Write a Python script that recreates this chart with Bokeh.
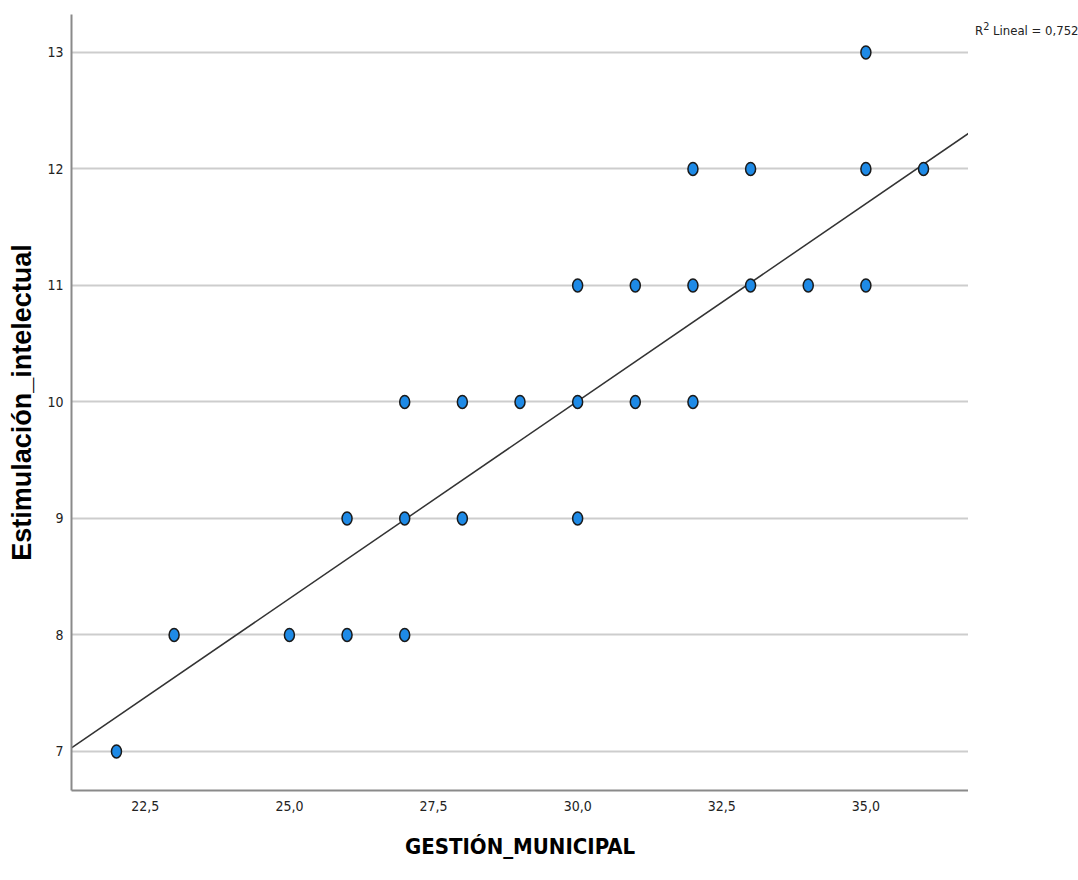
from bokeh.plotting import figure
from bokeh.models import FixedTicker, ColumnDataSource, Div
from bokeh.layouts import row
from bokeh.embed import file_html
from bokeh.resources import INLINE

# Data
gestion = [22, 23, 25, 26, 27, 26, 27, 28, 30, 27, 28, 29, 30, 31, 32,
           30, 31, 32, 33, 34, 35, 32, 33, 35, 36, 35]
estimulacion = [7, 8, 8, 8, 8, 9, 9, 9, 9, 10, 10, 10, 10, 10, 10,
                11, 11, 11, 11, 11, 11, 12, 12, 12, 12, 13]
fit_intercept = -0.163
fit_slope = 0.339
r2_value = "0,752"
x_ticks = [22.5, 25.0, 27.5, 30.0, 32.5, 35.0]
x_tick_labels = ["22,5", "25,0", "27,5", "30,0", "32,5", "35,0"]
y_ticks = [7, 8, 9, 10, 11, 12, 13]

x_lo, x_hi = 21.22, 36.78
y_lo, y_hi = 6.665, 13.326

NARROW = "DejaVu Sans Condensed"

p = figure(width=968, height=880, x_range=(x_lo, x_hi), y_range=(y_lo, y_hi),
           output_backend="svg", toolbar_location=None,
           min_border_left=71, min_border_right=0, min_border_top=14, min_border_bottom=90)
p.outline_line_color = None
p.background_fill_color = "white"

# grid
p.xgrid.grid_line_color = None
p.ygrid.grid_line_color = "#cdcdcd"
p.ygrid.grid_line_width = 2

# axes
p.xaxis.ticker = FixedTicker(ticks=x_ticks)
p.xaxis.major_label_overrides = {t: l for t, l in zip(x_ticks, x_tick_labels)}
p.yaxis.ticker = FixedTicker(ticks=y_ticks)
for ax in (p.xaxis, p.yaxis):
    ax.axis_line_color = "#8a8a8a"
    ax.axis_line_width = 2
    ax.major_tick_line_color = None
    ax.minor_tick_line_color = None
    ax.major_tick_in = 0
    ax.major_tick_out = 0
    ax.major_label_text_font = NARROW
    ax.major_label_text_font_size = "14px"
    ax.major_label_text_color = "#222222"
    ax.axis_label_text_font_style = "bold"
    ax.axis_label_text_color = "black"
p.xaxis.major_label_standoff = 10
p.yaxis.major_label_standoff = 8
p.xaxis.axis_label = "GESTIÓN_MUNICIPAL"
p.xaxis.axis_label_text_font = NARROW
p.xaxis.axis_label_text_font_size = "22px"
p.xaxis.axis_label_standoff = 20
p.yaxis.axis_label = "Estimulación_intelectual"
p.yaxis.axis_label_text_font = "Liberation Sans"
p.yaxis.axis_label_text_font_size = "27px"
p.yaxis.axis_label_standoff = 7

# regression line
lx = [x_lo, x_hi]
ly = [fit_intercept + fit_slope * v for v in lx]
p.line(lx, ly, line_color="#333333", line_width=1.5)

# points
src = ColumnDataSource(dict(x=gestion, y=estimulacion))
p.ellipse(x="x", y="y", width=10, height=13, width_units="screen", height_units="screen",
          source=src, fill_color="#1e8ae6", line_color="#1a1a1a", line_width=1.5)

# R² note in the right margin
note = Div(text="R<sup>2</sup> Lineal = " + r2_value, width=110, height=880,
           styles={"padding-top": "14px", "padding-left": "2px",
                   "font-family": "'DejaVu Sans Condensed', 'DejaVu Sans', sans-serif",
                   "font-size": "13px", "color": "#222222", "white-space": "nowrap"})

layout = row(p, note)
open("out.html", "w").write(file_html(layout, INLINE))
